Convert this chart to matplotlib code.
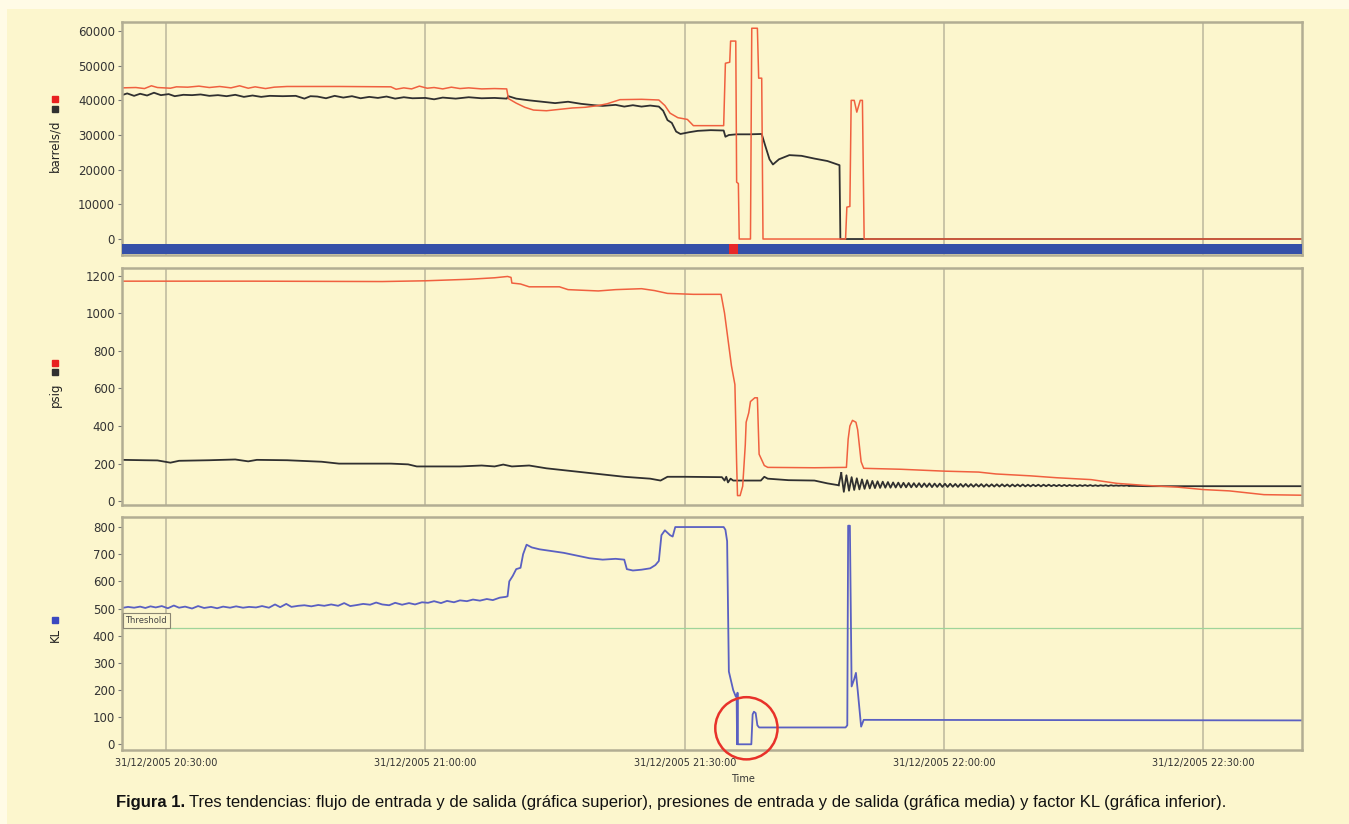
import matplotlib
matplotlib.use("Agg")
import matplotlib.pyplot as plt
from matplotlib.patches import Ellipse, Rectangle
import numpy as np

# time axis in minutes after 31/12/2005 20:00:00
x_min, x_max = 24.9, 161.4
tick_minutes = [30, 60, 90, 120, 150]
tick_labels = ["31/12/2005 20:30:00", "31/12/2005 21:00:00", "31/12/2005 21:30:00",
               "31/12/2005 22:00:00", "31/12/2005 22:30:00"]

# --- top panel: flow (barrels/d) ---
flow_red_t = [24.9, 26.5, 27.5, 28.3, 29.0, 30.5, 31.2, 32.5, 33.8, 35.0, 36.2, 37.5, 38.5,
              39.5, 40.3, 41.5, 42.5, 44.0, 50.0, 56.0, 56.6, 57.5, 58.4, 59.3, 60.2, 61.0,
              62.0, 63.0, 64.0, 65.0, 66.5, 68.0, 69.4, 69.6, 70.5, 71.5, 72.5, 74.0, 75.5,
              77.0, 78.5, 80.0, 81.0, 82.5, 85.0, 87.0, 87.7, 88.3, 89.2, 90.3, 91.0, 94.5,
              94.7, 95.2, 95.3, 95.9, 96.0, 96.2, 96.3, 97.6, 97.75, 98.4, 98.55, 98.9, 99.05,
              108.6, 108.75, 109.1, 109.25, 109.6, 109.9, 110.3, 110.55, 110.75, 161.4]
flow_red_v = [43600, 43700, 43400, 44200, 43700, 43500, 43900, 43800, 44100, 43700, 44000,
              43600, 44200, 43500, 43900, 43400, 43800, 44000, 44000, 43900, 43200, 43600,
              43300, 44100, 43500, 43700, 43300, 43800, 43400, 43600, 43300, 43400, 43300,
              40500, 39200, 38000, 37200, 37000, 37400, 37800, 38000, 38500, 39000, 40200,
              40300, 40100, 38500, 36300, 35000, 34500, 32700, 32700, 50700, 51000, 57100,
              57100, 16400, 16000, 0, 0, 60800, 60800, 46400, 46400, 0, 0, 9200, 9400,
              40000, 40000, 36600, 40000, 40000, 0, 0]

flow_blk_t = [24.9, 25.5, 26.3, 27.0, 27.8, 28.6, 29.4, 30.3, 31.0, 32.0, 33.0, 34.0, 35.0,
              36.0, 37.0, 38.0, 39.0, 40.0, 41.0, 42.0, 43.5, 45.0, 46.0, 46.7, 47.5, 48.5,
              49.5, 50.5, 51.5, 52.5, 53.5, 54.5, 55.5, 56.5, 57.5, 58.5, 60.0, 61.0, 62.0,
              63.5, 65.0, 66.5, 68.0, 69.4, 69.6, 70.5, 72.0, 73.5, 75.0, 76.5, 78.0, 79.5,
              80.5, 82.0, 83.0, 84.0, 85.0, 86.0, 87.0, 87.5, 88.0, 88.5, 89.0, 89.5, 90.5,
              91.5, 93.0, 94.5, 94.7, 95.1, 96.0, 97.5, 98.9, 99.3, 99.8, 100.2, 100.9,
              102.1, 103.5, 105.0, 106.5, 107.9, 108.0, 161.4]
flow_blk_v = [41500, 42000, 41300, 41900, 41400, 42200, 41500, 41800, 41200, 41600, 41500,
              41700, 41300, 41500, 41200, 41600, 41000, 41400, 41000, 41300, 41200, 41300,
              40500, 41200, 41100, 40600, 41300, 40800, 41200, 40600, 41000, 40700, 41100,
              40500, 40900, 40600, 40700, 40300, 40800, 40500, 40900, 40600, 40700, 40500,
              41200, 40500, 40000, 39600, 39200, 39600, 39000, 38600, 38400, 38700, 38200,
              38600, 38200, 38500, 38200, 37000, 34300, 33500, 31000, 30300, 30800, 31200,
              31400, 31300, 29500, 30000, 30200, 30200, 30300, 27000, 23000, 21500, 23000,
              24200, 24000, 23200, 22500, 21300, 0, 0]

# status strip under the flow panel: (start, end, state)
status_start = [24.9, 95.09, 96.13]
status_end = [95.09, 96.13, 161.4]
status_alarm = [False, True, False]

# --- middle panel: pressure (psig) ---
pres_red_t = [24.9, 40, 55, 60, 65, 68, 69.5, 69.9, 70.0, 71.0, 72.0, 75.5, 76.5, 80.0, 82.0,
              85.0, 86.5, 88.0, 91.0, 94.2, 94.6, 95.4, 95.8, 96.0, 96.1, 96.4, 96.7, 97.0,
              97.1, 97.4, 97.6, 98.1, 98.4, 98.6, 99.2, 99.6, 105, 108.7, 108.9, 109.1,
              109.4, 109.8, 110.0, 110.4, 110.7, 115, 120, 124, 126, 130, 133, 137, 140,
              143, 147, 150, 153, 155, 157, 161.4]
pres_red_v = [1170, 1170, 1168, 1172, 1180, 1188, 1195, 1190, 1160, 1155, 1140, 1140, 1125,
              1118, 1125, 1130, 1120, 1105, 1100, 1100, 1000, 720, 620, 200, 30, 30, 80, 300,
              420, 470, 530, 550, 550, 250, 190, 180, 178, 180, 330, 400, 430, 420, 380, 210,
              175, 170, 160, 155, 145, 135, 125, 115, 95, 85, 75, 62, 55, 45, 35, 32]

pres_blk_t = [24.9, 27.5, 29.0, 30.5, 31.5, 35, 38, 39.5, 40.5, 44, 48, 50, 56, 58, 59.0, 64,
              66.5, 68.0, 69.0, 70.0, 72.0, 74.0, 77, 80, 83, 86, 87.2, 88.0, 90.0, 94.3,
              94.6, 94.8, 95.0, 95.3, 95.6, 98.8, 99.2, 99.6, 100.2, 102, 105, 106.5, 107.8]
pres_blk_v = [220, 218, 217, 205, 215, 218, 222, 212, 220, 218, 210, 200, 200, 196, 185, 185,
              190, 185, 195, 185, 190, 175, 160, 145, 130, 120, 110, 130, 130, 128, 110, 130,
              100, 120, 110, 110, 130, 120, 118, 112, 110, 95, 85]
# oscillation after the pump trip, sampled every 0.3 min from 108.1
osc_start, osc_step = 108.1, 0.3
osc_v = [150, 50, 138, 56, 128, 60, 122, 63, 116, 66, 112, 68, 108, 70, 106, 71, 104, 72,
         102, 72, 100, 73, 99, 73, 98, 74, 97, 74, 96, 75, 96, 75, 95, 76, 95, 75, 94, 76,
         94, 76, 93, 76, 93, 77, 92, 76, 92, 77, 92, 77, 91, 77, 91, 78, 91, 77, 90, 78, 90,
         78, 90, 78, 90, 79, 89, 78, 89, 79, 89, 79, 89, 79, 88, 79, 88, 80, 88, 79, 88, 80,
         88, 80, 87, 80, 87, 80, 87, 80, 87, 81, 86, 80, 86, 81, 86, 81, 86, 81, 85, 81, 85,
         82, 85, 81, 85, 82, 84, 82, 84, 82, 84, 82]
pres_tail_t = [143.5, 161.4]
pres_tail_v = [80, 80]

# --- bottom panel: KL factor ---
kl_t = [24.9, 25.6, 26.3, 27.0, 27.6, 28.2, 28.8, 29.5, 30.2, 30.9, 31.5, 32.2, 33.0, 33.7,
        34.4, 35.2, 35.9, 36.6, 37.4, 38.1, 38.9, 39.6, 40.4, 41.1, 41.9, 42.6, 43.2, 43.9,
        44.5, 45.3, 46.0, 46.8, 47.6, 48.3, 49.1, 49.9, 50.6, 51.3, 52.1, 52.8, 53.6, 54.3,
        55.0, 55.8, 56.5, 57.3, 58.1, 58.8, 59.6, 60.3, 61.0, 61.8, 62.5, 63.3, 64.0, 64.8,
        65.5, 66.3, 67.1, 67.8, 68.6, 69.3, 69.5, 69.7, 70.1, 70.5, 71.0, 71.3, 71.7, 72.3,
        73.2, 74.5, 76.0, 77.5, 79.0, 80.5, 82.0, 83.0, 83.3, 84.0, 85.0, 86.0, 86.6, 87.0,
        87.3, 87.7, 88.3, 88.6, 88.9, 94.5, 94.7, 94.9, 95.1, 95.6, 95.9, 96.0, 96.05, 96.1,
        96.15, 97.7, 97.85, 98.0, 98.2, 98.4, 98.6, 108.6, 108.8, 108.9, 109.1, 109.3, 109.6,
        109.8, 110.0, 110.4, 110.7, 161.4]
kl_v = [502, 506, 503, 507, 502, 508, 504, 509, 501, 511, 503, 507, 500, 509, 502, 506, 501,
        507, 503, 508, 503, 506, 504, 509, 503, 515, 505, 517, 506, 510, 512, 508, 513, 510,
        515, 510, 520, 509, 513, 517, 514, 522, 515, 512, 521, 514, 520, 515, 523, 521, 527,
        520, 528, 523, 530, 527, 533, 529, 535, 531, 540, 543, 545, 600, 620, 645, 650, 700,
        735, 725, 718, 712, 705, 695, 685, 680, 683, 680, 645, 640, 643, 648, 660, 675, 770,
        788, 770, 765, 800, 800, 790, 748, 268, 200, 176, 180, 0, 190, 0, 0, 110, 120, 115,
        70, 62, 62, 70, 805, 805, 213, 240, 263, 200, 65, 90, 88]
kl_threshold = 428

BG = "#fcf6cd"
FRAME = "#b2ad93"
GRID = "#c9c4a6"
RED = "#f0603f"
BLACK = "#303030"
BLUE = "#5a60c2"

W, H = 1349, 824
fig = plt.figure(figsize=(W / 100, H / 100), dpi=100)
fig.patch.set_facecolor("#fffbe6")
fig.add_artist(Rectangle((7 / W, 0), 1, 1 - 9 / H, transform=fig.transFigure,
                         facecolor=BG, edgecolor="none", zorder=-10))


def px_box(top, bottom, left=122, right=1302):
    return [left / W, 1 - bottom / H, (right - left) / W, (bottom - top) / H]


ax1 = fig.add_axes(px_box(22, 255))
ax2 = fig.add_axes(px_box(268, 505))
ax3 = fig.add_axes(px_box(517, 750))

for ax in (ax1, ax2, ax3):
    ax.set_facecolor(BG)
    ax.set_xlim(x_min, x_max)
    ax.set_xticks(tick_minutes)
    ax.grid(axis="x", color=GRID, lw=1.4)
    ax.set_axisbelow(True)
    for sp in ax.spines.values():
        sp.set_color(FRAME)
        sp.set_linewidth(1.8)
    ax.tick_params(axis="y", length=3, width=0.8, color="#777", labelsize=8.5,
                   labelcolor="#333", pad=2)
    ax.tick_params(axis="x", length=0)

ax1.set_xticklabels([])
ax2.set_xticklabels([])
ax3.set_xticklabels(tick_labels, fontsize=7, color="#333")
ax3.tick_params(axis="x", pad=6)

# top panel
ax1.plot(flow_blk_t, flow_blk_v, color=BLACK, lw=1.3)
ax1.plot(flow_red_t, flow_red_v, color=RED, lw=1.1)
for s, e, alarm in zip(status_start, status_end, status_alarm):
    ax1.broken_barh([(s, e - s)], (-4420, 2980), facecolors="#e82828" if alarm else "#3550a8",
                    zorder=3)
ax1.set_ylim(-4610, 62600)
ax1.set_yticks(range(0, 60001, 10000))

# middle panel
ax2.plot(pres_blk_t, pres_blk_v, color=BLACK, lw=1.3)
osc_t = osc_start + osc_step * np.arange(len(osc_v))
ax2.plot(osc_t, osc_v, color=BLACK, lw=1.3)
ax2.plot([pres_blk_t[-1], osc_t[0]], [pres_blk_v[-1], osc_v[0]], color=BLACK, lw=1.3)
ax2.plot([osc_t[-1]] + pres_tail_t, [osc_v[-1]] + pres_tail_v, color=BLACK, lw=1.3)
ax2.plot(pres_red_t, pres_red_v, color=RED, lw=1.1)
ax2.set_ylim(-20, 1240)
ax2.set_yticks(range(0, 1201, 200))

# bottom panel
ax3.axhline(kl_threshold, color="#9fd49a", lw=0.9)
ax3.plot(kl_t, kl_v, color=BLUE, lw=1.3)
ax3.set_ylim(-21, 837)
ax3.set_yticks(range(0, 801, 100))
ax3.text(25.3, 455, "Threshold", fontsize=6, color="#444", va="center",
         bbox=dict(boxstyle="square,pad=0.35", fc=BG, ec="#8a8672", lw=0.8))
ax3.add_patch(Ellipse((97.13, 59), 7.2, 229, fill=False, ec="#e8322a", lw=1.8,
                      clip_on=False, zorder=5))
ax3.text(96.7, -110, "Time", fontsize=7, color="#333", ha="center", va="top",
         transform=ax3.transData)

# y labels with coloured series keys
lx = (55 - 122) / 1180
for ax, label, ly, keys in [(ax1, "barrels/d", 0.47, [(0.628, BLACK), (0.67, "#e82020")]),
                            (ax2, "psig", 0.465, [(0.56, BLACK), (0.60, "#e82020")]),
                            (ax3, "KL", 0.494, [(0.558, "#3a48c0")])]:
    ax.text(lx, ly, label, rotation=90, transform=ax.transAxes, ha="center", va="center",
            fontsize=8.5, color="#222")
    for ky, kc in keys:
        ax.plot([lx], [ky], marker="s", ms=5, color=kc, transform=ax.transAxes,
                clip_on=False)

# caption
cap_y = 1 - 803 / H
t1 = fig.text(116 / W, cap_y, "Figura 1.", fontsize=12, fontweight="bold",
              family="Liberation Sans", va="center", color="#111")
fig.canvas.draw()
bb = t1.get_window_extent()
fig.text(bb.x1 / W + 4 / W, cap_y,
         "Tres tendencias: flujo de entrada y de salida (gráfica superior), presiones de "
         "entrada y de salida (gráfica media) y factor KL (gráfica inferior).",
         fontsize=12, family="Liberation Sans", va="center", color="#111")

fig.savefig("out.png", dpi=100, facecolor=fig.get_facecolor())
